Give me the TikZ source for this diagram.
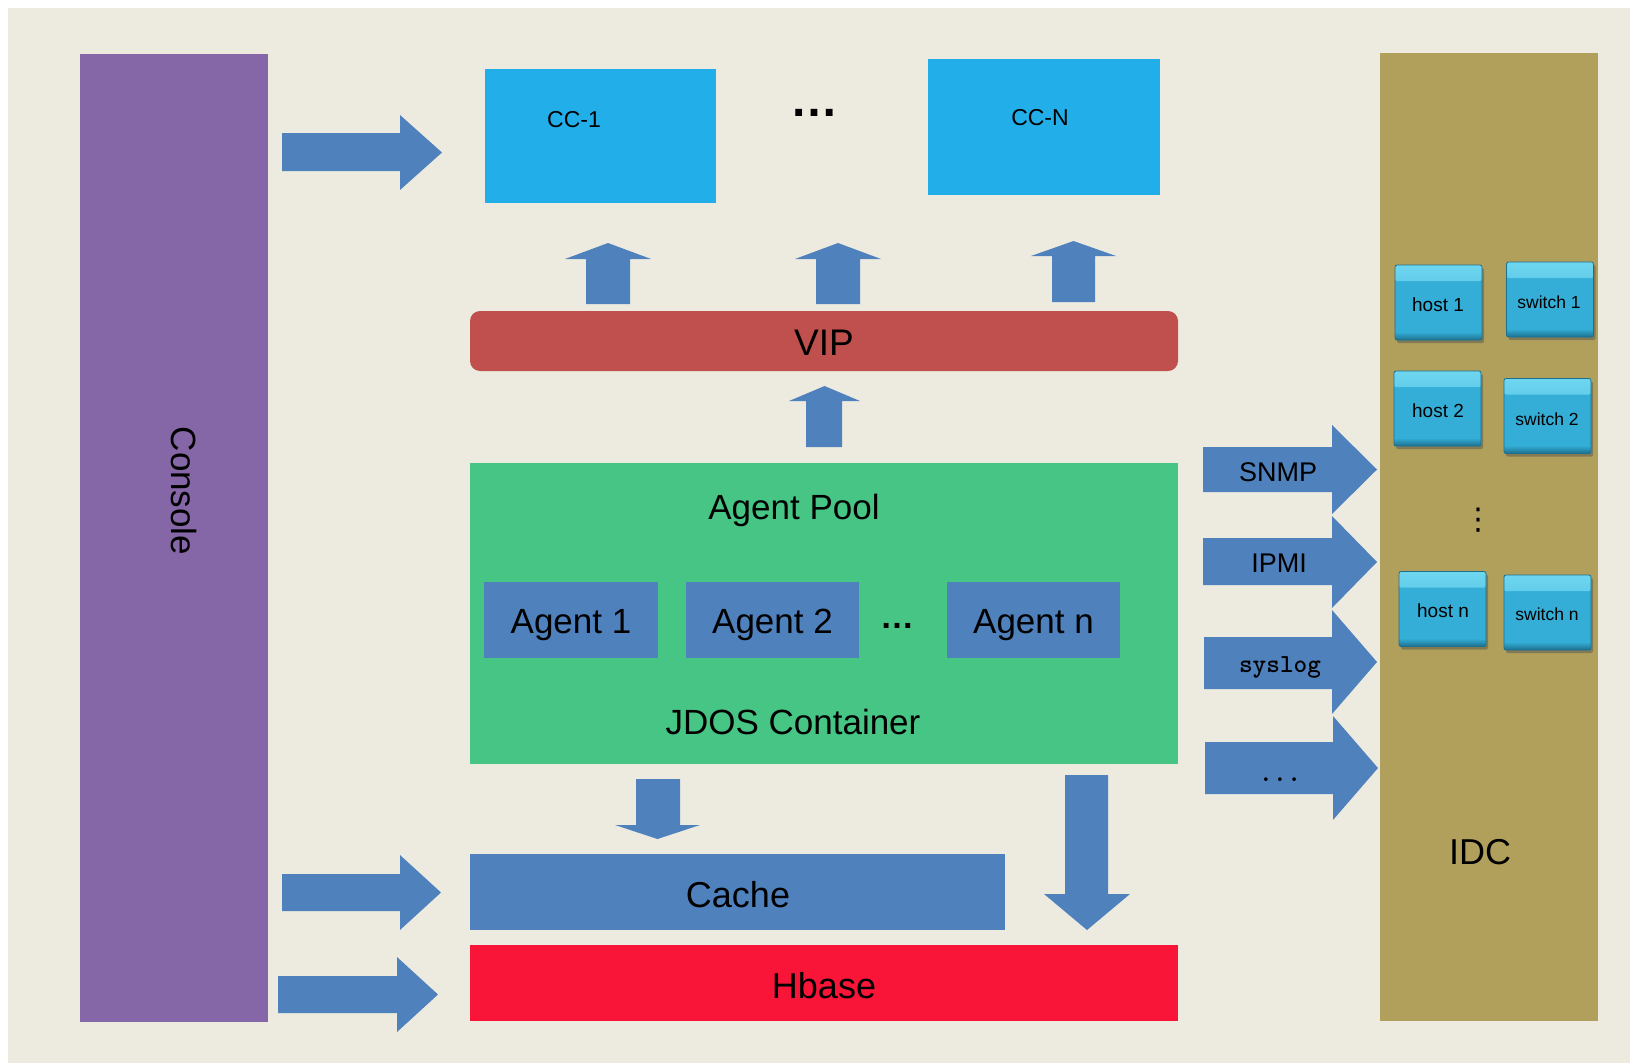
\documentclass[tikz,border=0pt]{standalone}
\usepackage{fontspec}
\setmainfont{Liberation Sans}
\newfontfamily\dejavu{DejaVu Sans}
\usetikzlibrary{shadows}
\definecolor{bg}{HTML}{EDEBE0}
\definecolor{consolec}{HTML}{8566A6}
\definecolor{arrowblue}{HTML}{4F81BD}
\definecolor{ccblue}{HTML}{22AEE8}
\definecolor{vipred}{HTML}{C0504D}
\definecolor{poolgreen}{HTML}{47C585}
\definecolor{hbasered}{HTML}{F81538}
\definecolor{idcc}{HTML}{B1A05C}
\definecolor{hostfill}{HTML}{34AED6}
\definecolor{hostlight}{HTML}{6FD6F0}
\definecolor{hostdark}{HTML}{1D6F8E}
\newcommand\fs[1]{\fontsize{#1}{#1}\selectfont}
% right block arrow: xs xb xt ys1 ys2 yh1 yh2
\newcommand\RightBlk[7]{\fill[arrowblue] (#1,#4) -- (#2,#4) -- (#2,#6) -- (#3,{(#6+#7)/2}) -- (#2,#7) -- (#2,#5) -- (#1,#5) -- cycle;}
% up block arrow: xl xr xhl xhr ybottom ybase ytip
\newcommand\UpBlk[7]{\fill[arrowblue] (#1,#5) -- (#1,#6) -- (#3,#6) -- ({(#3+#4)/2},#7) -- (#4,#6) -- (#2,#6) -- (#2,#5) -- cycle;}
% down block arrow: xl xr xhl xhr ytop ybase ytip
\newcommand\DownBlk[7]{\fill[arrowblue] (#1,#5) -- (#1,#6) -- (#3,#6) -- ({(#3+#4)/2},#7) -- (#4,#6) -- (#2,#6) -- (#2,#5) -- cycle;}
\begin{document}
\begin{tikzpicture}[x=1pt,y=-1pt,
  box/.style={draw=none, inner sep=0pt, outer sep=0pt},
  lbl/.style={inner sep=0pt, outer sep=0pt, text=black},
  hostbox/.style={box, fill=hostfill, draw=hostdark, line width=0.8pt, rounded corners=2pt,
    minimum width=87pt, minimum height=75pt, font=\fs{19},
    drop shadow={shadow xshift=2pt, shadow yshift=-3pt, opacity=0.45, fill=black!70},
    path picture={
      \shade[top color=hostlight, bottom color=hostfill]
        (path picture bounding box.north west) rectangle ([yshift=-16pt]path picture bounding box.north east);
      \shade[top color=hostfill, bottom color=hostdark]
        ([yshift=8pt]path picture bounding box.south west) rectangle (path picture bounding box.south east);
    }}]
\useasboundingbox (0,0) rectangle (1630,1063);
\fill[white] (0,0) rectangle (1630,1063);
\fill[bg] (8,8) rectangle (1630,1063);

% Console
\node[box, fill=consolec, minimum width=188pt, minimum height=968pt] (console) at (174,538) {};
\node[lbl, rotate=-90, font=\fs{35}] (consolet) at (184,491) {Console};

% CC boxes
\node[box, fill=ccblue, minimum width=231pt, minimum height=134pt] (cc1) at (600.5,136) {};
\node[lbl, font=\fs{23}] (cc1t) at (574,120) {CC-1};
\node[box, fill=ccblue, minimum width=232pt, minimum height=136pt] (ccn) at (1044,127) {};
\node[lbl, font=\fs{23}] (ccnt) at (1040,118) {CC-N};
\node[lbl, anchor=base, font=\bfseries\fs{48}] (ccdots) at (814,116) {…};

% VIP
\node[box, fill=vipred, rounded corners=10pt, minimum width=708pt, minimum height=60pt] (vip) at (824,341) {};
\node[lbl, font=\fs{37}] (vipt) at (824,343) {VIP};

% Agent pool
\node[box, fill=poolgreen, minimum width=708pt, minimum height=301pt] (pool) at (824,613.5) {};
\node[lbl, font=\fs{35}] (poolt) at (794,510) {Agent Pool};
\node[lbl, font=\fs{35}] (jdos) at (793,722) {JDOS Container};
\node[box, fill=arrowblue, minimum width=174pt, minimum height=76pt] (ag1) at (571,620) {};
\node[box, fill=arrowblue, minimum width=173pt, minimum height=76pt] (ag2) at (772.5,620) {};
\node[box, fill=arrowblue, minimum width=173pt, minimum height=76pt] (agn) at (1033.5,620) {};
\node[lbl, font=\fs{35}] (ag1t) at (571,625) {Agent 1};
\node[lbl, font=\fs{35}] (ag2t) at (772.5,625) {Agent 2};
\node[lbl, font=\fs{35}] (agnt) at (1033.5,625) {Agent n};
\node[lbl, anchor=base, font=\bfseries\fs{34}] (agdots) at (897,628) {…};

% Cache & Hbase
\node[box, fill=arrowblue, minimum width=535pt, minimum height=76pt] (cache) at (737.5,892) {};
\node[lbl, font=\fs{36}] (cachet) at (738,895) {Cache};
\node[box, fill=hbasered, minimum width=708pt, minimum height=76pt] (hbase) at (824,983) {};
\node[lbl, font=\fs{36}] (hbaset) at (824,986) {Hbase};

% IDC
\node[box, fill=idcc, minimum width=218pt, minimum height=968pt] (idc) at (1489,537) {};
\node[lbl, font=\fs{36}] (idct) at (1480,852) {IDC};
\node[hostbox] (h1) at (1438.5,302.5) {};
\node[hostbox] (s1) at (1550,299.5) {};
\node[hostbox] (h2) at (1437.5,408.5) {};
\node[hostbox] (s2) at (1547.5,416) {};
\node[hostbox] (hn) at (1442.5,609) {};
\node[hostbox] (sn) at (1547.5,612.5) {};
\node[lbl, font=\fs{19}] (h1t) at (1438,305) {host 1};
\node[lbl, font=\fs{17.5}] (s1t) at (1549,302) {switch 1};
\node[lbl, font=\fs{19}] (h2t) at (1438,411) {host 2};
\node[lbl, font=\fs{17.5}] (s2t) at (1547,419) {switch 2};
\node[lbl, font=\fs{19}] (hnt) at (1443,611) {host n};
\node[lbl, font=\fs{17.5}] (snt) at (1547,614) {switch n};
\node[lbl, font=\dejavu\fs{30}] (vdots) at (1478,520) {⋮};

% left arrows
\RightBlk{282}{400}{442}{133}{171}{115}{190}
\RightBlk{282}{400}{441}{874}{911}{855}{930}
\RightBlk{278}{397}{438}{976}{1013}{957}{1032}

% up arrows above VIP
\UpBlk{586}{630}{565}{651}{304}{259}{243}
\UpBlk{816}{860}{795}{881}{304}{259}{243}
\UpBlk{1052}{1095}{1031}{1116}{302}{256}{241}
% up arrow pool -> VIP
\UpBlk{806}{842}{789}{860}{447}{401}{386}

% down arrows
\DownBlk{636}{680}{615}{700}{779}{825}{839}
\DownBlk{1065}{1108}{1044}{1130}{775}{894}{930}

% right arrows to IDC
\RightBlk{1203}{1332}{1377}{447}{492}{425}{514}
\RightBlk{1203}{1332}{1377}{538}{585}{516}{608}
\RightBlk{1204}{1332}{1377}{637}{689}{610}{714}
\RightBlk{1205}{1333}{1378}{742}{794}{716}{820}
\node[lbl, font=\fs{27}] (snmp) at (1278,472) {SNMP};
\node[lbl, font=\fs{27}] (ipmi) at (1279,563) {IPMI};
\node[lbl, font=\ttfamily\bfseries\fs{26}] (syslog) at (1280,667) {syslog};
\node[lbl, anchor=base, font=\ttfamily\bfseries\fs{27}] (more) at (1280,781) {...};
\end{tikzpicture}
\end{document}
